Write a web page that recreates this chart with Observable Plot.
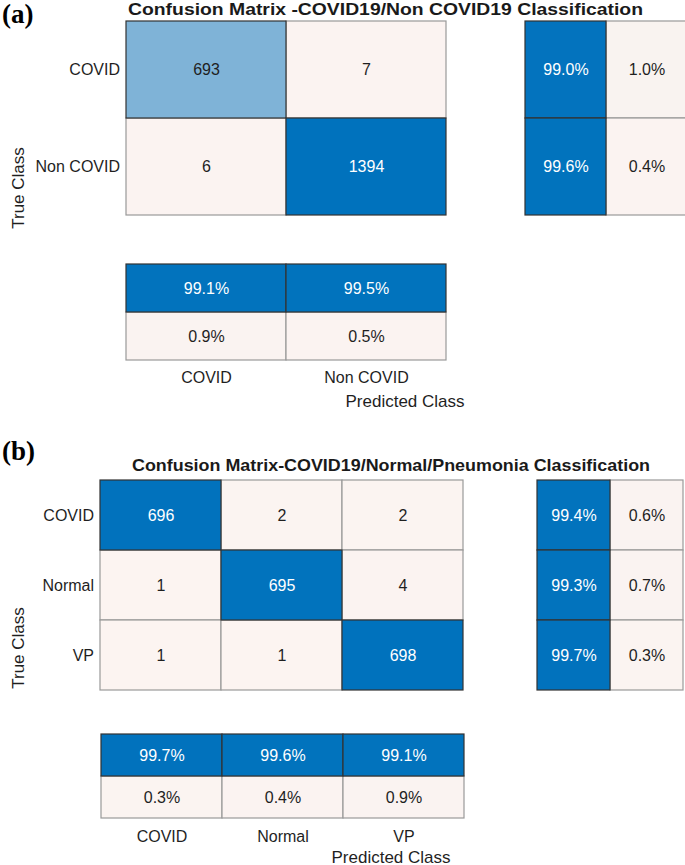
<!DOCTYPE html>
<html><head><meta charset="utf-8">
<script src="https://cdn.jsdelivr.net/npm/d3@7"></script>
<script src="https://cdn.jsdelivr.net/npm/@observablehq/plot@0.6"></script>
<style>
html,body{margin:0;padding:0;background:#fff;}
#root{position:relative;width:685px;height:865px;overflow:hidden;font-family:"Liberation Sans",Arial,sans-serif;color:#1f1f1f;}
.abs{position:absolute;white-space:nowrap;line-height:1;}
.panel{font-family:"Liberation Serif","Times New Roman",serif;font-weight:bold;font-size:27px;color:#000;}
.title{font-weight:bold;font-size:17px;color:#1a1a1a;transform-origin:0 0;}
.ylab{font-size:17px;transform:translate(-50%,-50%) rotate(-90deg);}
.xlab{font-size:17px;transform:translate(-50%,-50%);}
#root svg{position:absolute;background:transparent !important;max-width:none !important;overflow:visible;}
</style></head><body><div id="root"></div>
<script>
// ---------- data ----------
const panelA = "(a)";
const titleA = "Confusion Matrix -COVID19/Non COVID19 Classification";
const classesA = ["COVID", "Non COVID"];
const countsA = [[693, 7], [6, 1394]];
const rowSummaryA = [[99.0, 1.0], [99.6, 0.4]];
const colSummaryA = [[99.1, 99.5], [0.9, 0.5]];

const panelB = "(b)";
const titleB = "Confusion Matrix-COVID19/Normal/Pneumonia Classification";
const classesB = ["COVID", "Normal", "VP"];
const countsB = [[696, 2, 2], [1, 695, 4], [1, 1, 698]];
const rowSummaryB = [[99.4, 0.6], [99.3, 0.7], [99.7, 0.3]];
const colSummaryB = [[99.7, 99.6, 99.1], [0.3, 0.4, 0.9]];

const yLabel = "True Class";
const xLabel = "Predicted Class";

// ---------- style ----------
const BLUE = "#0072BD", PALE = "#FCF4F1", INK = "#1f1f1f";
const root = document.getElementById("root");

function grid({rows, cols, values, fmt, max, x0, y0, w, h, yTicks = false, xTicks = false, xPad = 11}) {
  const data = [];
  rows.forEach((r, i) => cols.forEach((c, j) => data.push({r, c, v: values[i][j]})));
  const light = data.filter(d => d.v / max <= 0.3);
  const mid = data.filter(d => d.v / max > 0.3);
  const dark = data.filter(d => d.v / max > 0.6);
  const darkText = data.filter(d => d.v / max <= 0.6);
  const mL = yTicks ? x0 : 2, mT = 2, mR = 2, mB = xTicks ? 34 : 2;
  const svg = Plot.plot({
    width: mL + w + mR,
    height: mT + h + mB,
    marginLeft: mL, marginRight: mR, marginTop: mT, marginBottom: mB,
    style: {fontFamily: '"Liberation Sans", Arial, sans-serif', fontSize: "16px", color: INK, background: "transparent"},
    x: {type: "band", domain: cols, padding: 0, axis: xTicks ? "bottom" : null, tickSize: 0, tickPadding: xPad, label: null},
    y: {type: "band", domain: rows, padding: 0, axis: yTicks ? "left" : null, tickSize: 0, tickPadding: 6, label: null},
    color: {type: "linear", domain: [0, max], range: [PALE, BLUE], interpolate: "rgb"},
    marks: [
      Plot.cell(light, {x: "c", y: "r", fill: "v", stroke: "#999", strokeWidth: 1.2}),
      Plot.cell(mid, {x: "c", y: "r", fill: "v", stroke: "#333", strokeWidth: 1.2}),
      Plot.text(dark, {x: "c", y: "r", text: d => fmt(d.v), fill: "white", fontSize: 16}),
      Plot.text(darkText, {x: "c", y: "r", text: d => fmt(d.v), fill: INK, fontSize: 16})
    ]
  });
  svg.style.left = (x0 - mL) + "px";
  svg.style.top = (y0 - mT) + "px";
  root.appendChild(svg);
}

function label(text, cls, x, y) {
  const d = document.createElement("div");
  d.className = "abs " + cls;
  d.textContent = text;
  d.style.left = x + "px";
  d.style.top = y + "px";
  root.appendChild(d);
  return d;
}

// title stretched to span the given left/right edges
function title(text, x1, x2, y) {
  const d = label(text, "title", x1, y);
  const w0 = d.getBoundingClientRect().width;
  d.style.transform = `scaleX(${(x2 - x1) / w0})`;
}

const count = v => String(v);
const pct = v => v.toFixed(1) + "%";

// ---------- panel (a) ----------
grid({rows: classesA, cols: classesA, values: countsA, fmt: count, max: d3.max(countsA.flat()),
      x0: 125.5, y0: 20.5, w: 320, h: 194.5, yTicks: true});
grid({rows: classesA, cols: ["c1", "c2"], values: rowSummaryA, fmt: pct, max: 100,
      x0: 524.5, y0: 20.5, w: 162, h: 194.5});
grid({rows: ["r1", "r2"], cols: classesA, values: colSummaryA, fmt: pct, max: 100,
      x0: 125.5, y0: 262.5, w: 320, h: 97.5, xTicks: true, xPad: 11});
label(panelA, "panel", 2, 1);
title(titleA, 128, 643, 0.5);
label(yLabel, "ylab", 18, 188);
label(xLabel, "xlab", 405, 401);

// ---------- panel (b) ----------
grid({rows: classesB, cols: classesB, values: countsB, fmt: count, max: d3.max(countsB.flat()),
      x0: 99.5, y0: 479, w: 364.5, h: 212, yTicks: true});
grid({rows: classesB, cols: ["c1", "c2"], values: rowSummaryB, fmt: pct, max: 100,
      x0: 536.5, y0: 479, w: 146.5, h: 212});
grid({rows: ["r1", "r2"], cols: classesB, values: colSummaryB, fmt: pct, max: 100,
      x0: 99.5, y0: 733, w: 364.5, h: 85, xTicks: true, xPad: 12});
label(panelB, "panel", 2, 438);
title(titleB, 132, 650, 457);
label(yLabel, "ylab", 18, 648);
label(xLabel, "xlab", 391, 857);
</script></body></html>
